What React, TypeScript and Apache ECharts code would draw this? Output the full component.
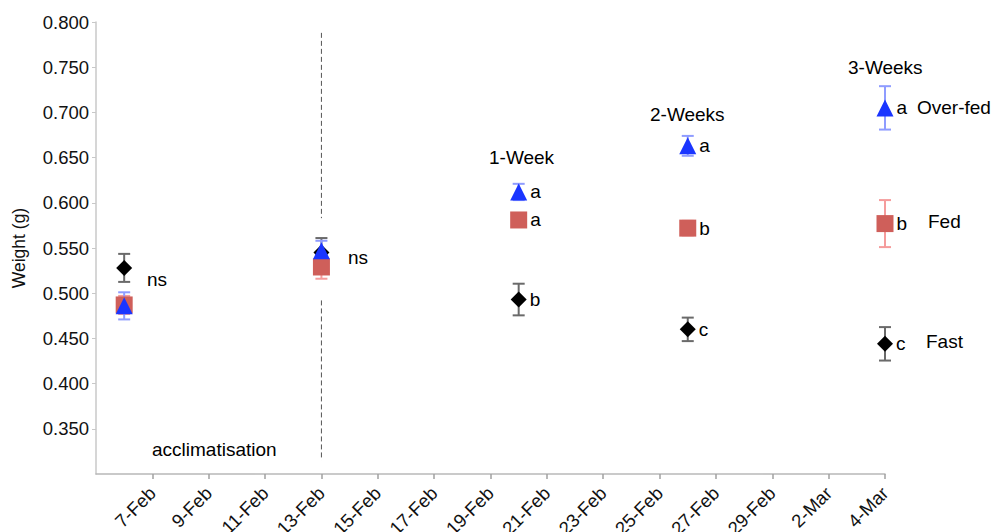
import React, { useEffect, useRef } from "react";
import * as echarts from "echarts";

// x axis: days since 5-Feb (2012), one tick every 2 days
const tickLabels = [
  "5-Feb", "7-Feb", "9-Feb", "11-Feb", "13-Feb", "15-Feb", "17-Feb", "19-Feb",
  "21-Feb", "23-Feb", "25-Feb", "27-Feb", "29-Feb", "2-Mar", "4-Mar",
];
// sampling dates: 6-Feb, 13-Feb, 20-Feb, 26-Feb, 4-Mar
const sampleDays = [1, 8, 15, 21, 28];

const overfedMean = [0.486, 0.547, 0.612, 0.663, 0.705];
const overfedErr = [0.015, 0.011, 0.009, 0.011, 0.024];
const overfedSig = ["", "", "a", "a", "a"];

const fedMean = [0.487, 0.529, 0.581, 0.572, 0.577];
const fedErr = [0.01, 0.013, 0.006, 0.008, 0.026];
const fedSig = ["", "", "a", "b", "b"];

const fastMean = [0.528, 0.545, 0.493, 0.46, 0.444];
const fastErr = [0.0155, 0.016, 0.0175, 0.013, 0.0185];
const fastSig = ["", "", "b", "c", "c"];

const dividerDay = 8;
const dividerSegments = [
  [0.788, 0.583],
  [0.492, 0.315],
];

const FONT = '"Liberation Sans", Arial, Helvetica, sans-serif';

function errSeries(mean: number[], err: number[], color: string) {
  return {
    type: "custom",
    silent: true,
    data: sampleDays.map((d, i) => [d, mean[i], err[i]]),
    encode: { x: 0, y: 1 },
    renderItem: (params: any, api: any) => {
      const x = api.value(0);
      const m = api.value(1);
      const e = api.value(2);
      const top = api.coord([x, m + e]);
      const bot = api.coord([x, m - e]);
      const w = 6;
      const style = { stroke: color, lineWidth: 2 };
      return {
        type: "group",
        children: [
          { type: "line", shape: { x1: top[0], y1: top[1], x2: bot[0], y2: bot[1] }, style },
          { type: "line", shape: { x1: top[0] - w, y1: top[1], x2: top[0] + w, y2: top[1] }, style },
          { type: "line", shape: { x1: bot[0] - w, y1: bot[1], x2: bot[0] + w, y2: bot[1] }, style },
        ],
      };
    },
  };
}

function pointSeries(name: string, mean: number[], sig: string[], symbol: string, size: number, color: string) {
  return {
    name,
    type: "scatter",
    symbol,
    symbolSize: size,
    itemStyle: { color, opacity: 1 },
    data: sampleDays.map((d, i) => [d, mean[i]]),
    label: {
      show: true,
      position: "right",
      distance: 3,
      formatter: (p: any) => sig[p.dataIndex],
      fontSize: 19,
      fontFamily: FONT,
      color: "#000",
    },
  };
}

function txt(text: string, x: number, y: number) {
  return {
    type: "text",
    x,
    y,
    silent: true,
    style: {
      text,
      fill: "#000",
      fontSize: 19,
      fontFamily: FONT,
      align: "left",
      verticalAlign: "middle",
    },
  };
}

export default function App() {
  const ref = useRef<HTMLDivElement>(null);
  useEffect(() => {
    if (!ref.current) return;
    const chart = echarts.init(ref.current, undefined, { renderer: "svg" });
    chart.setOption({
      animation: false,
      backgroundColor: "#fff",
      textStyle: { fontFamily: FONT },
      grid: {
        left: 96,
        right: 107,
        top: 22,
        bottom: 58,
        containLabel: false,
        outerBoundsMode: "none",
      },
      xAxis: {
        type: "value",
        min: 0,
        max: 28,
        interval: 2,
        axisLine: { show: true, lineStyle: { color: "#b8b8b8", width: 1.5 } },
        axisTick: { show: true, length: 5, lineStyle: { color: "#a0a0a0", width: 1.5 } },
        splitLine: { show: false },
        axisLabel: {
          rotate: 45,
          margin: 16,
          fontSize: 18.5,
          color: "#111",
          fontFamily: FONT,
          showMinLabel: false,
          showMaxLabel: true,
          formatter: (v: number) => tickLabels[Math.round(v / 2)] ?? "",
        },
      },
      yAxis: {
        type: "value",
        min: 0.3,
        max: 0.8,
        interval: 0.05,
        name: "Weight (g)",
        nameLocation: "middle",
        nameGap: 68,
        nameTextStyle: { fontSize: 17.5, color: "#111", fontFamily: FONT },
        axisLine: { show: true, lineStyle: { color: "#c8c8c8", width: 1.5 } },
        axisTick: { show: true, length: 4, lineStyle: { color: "#c8c8c8" } },
        splitLine: { show: false },
        axisLabel: {
          fontSize: 18.5,
          color: "#111",
          fontFamily: FONT,
          margin: 7,
          showMinLabel: false,
          formatter: (v: number) => v.toFixed(3),
        },
      },
      graphic: [
        txt("ns", 147, 279),
        txt("ns", 348, 257),
        txt("acclimatisation", 152, 449),
        txt("1-Week", 489, 157),
        txt("2-Weeks", 650, 114),
        txt("3-Weeks", 848, 67),
        txt("Over-fed", 917, 107),
        txt("Fed", 928, 221),
        txt("Fast", 926, 341),
      ],
      series: [
        ...dividerSegments.map((seg) => ({
          type: "line",
          silent: true,
          symbol: "none",
          data: [
            [dividerDay, seg[0]],
            [dividerDay, seg[1]],
          ],
          lineStyle: { color: "#555", width: 1, type: [5, 3] },
          z: 1,
        })),
        errSeries(fastMean, fastErr, "#6a6a6a"),
        pointSeries("Fast", fastMean, fastSig, "diamond", 16, "#000"),
        errSeries(fedMean, fedErr, "#f59c9c"),
        pointSeries("Fed", fedMean, fedSig, "rect", 17, "#cf5f5a"),
        errSeries(overfedMean, overfedErr, "#8f9cff"),
        pointSeries("Over-fed", overfedMean, overfedSig, "triangle", 17, "#1a35ff"),
      ],
    });
    return () => chart.dispose();
  }, []);
  return (
    <div
      ref={ref}
      style={{ position: "fixed", left: 0, top: 0, width: 992, height: 532 }}
    />
  );
}
